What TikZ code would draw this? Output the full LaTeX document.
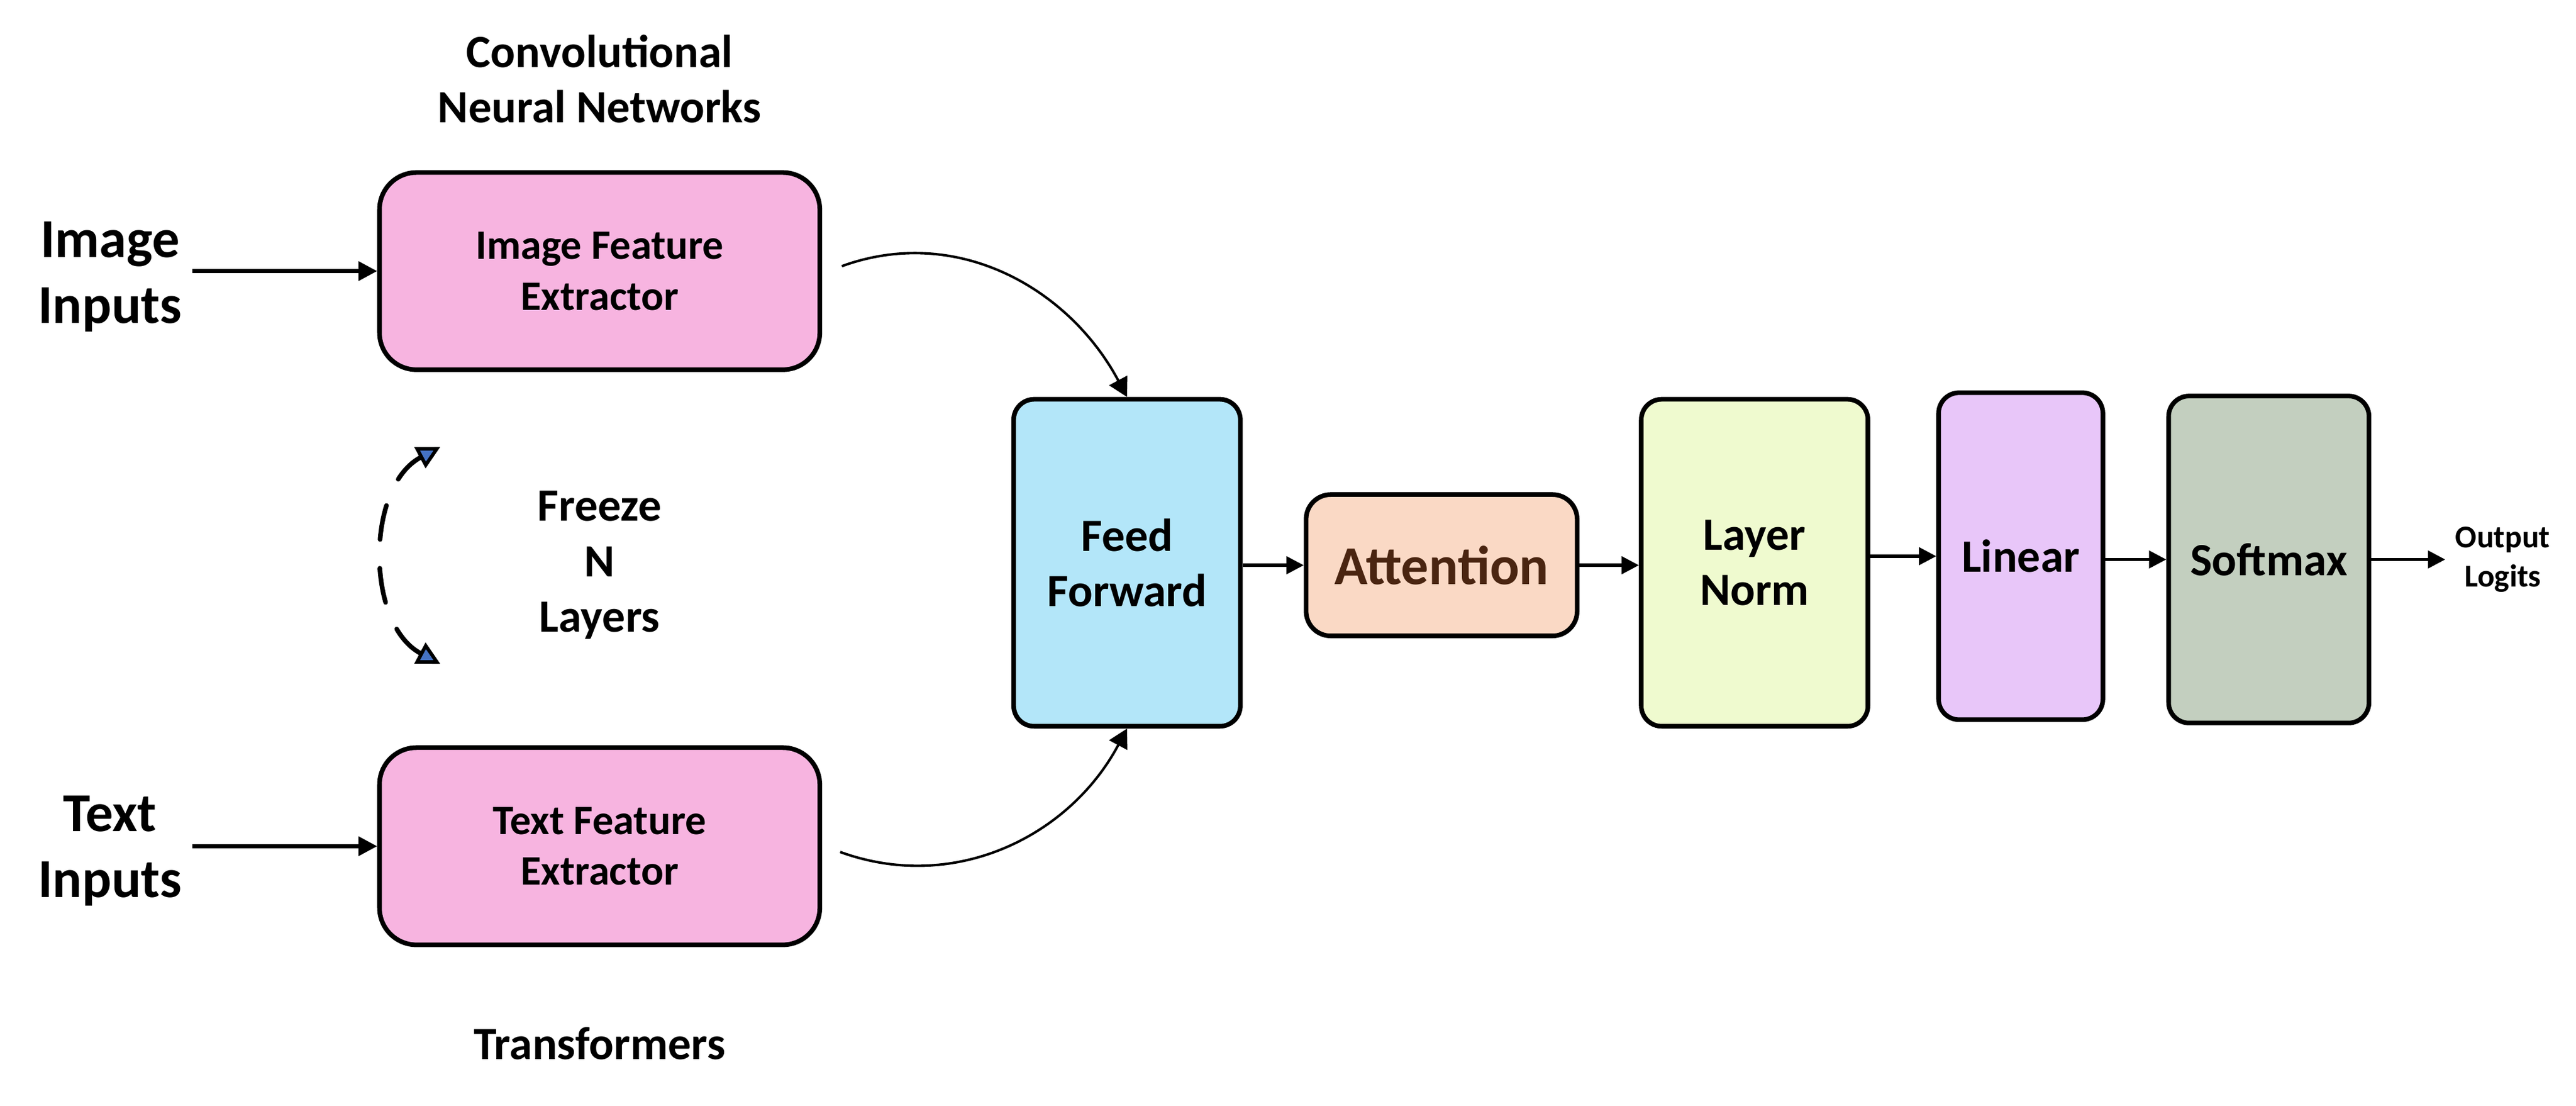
\documentclass[tikz,border=0pt]{standalone}
\usepackage{fontspec}
\setmainfont{Carlito}
\usetikzlibrary{arrows.meta}
\usetikzlibrary{positioning}

\definecolor{fepink}{HTML}{F7B4E0}
\definecolor{ffblue}{HTML}{B3E6F9}
\definecolor{attpeach}{HTML}{FAD9C5}
\definecolor{attbrown}{HTML}{4A2511}
\definecolor{lnyellow}{HTML}{EFFACF}
\definecolor{linpurple}{HTML}{E8C6F9}
\definecolor{softgrey}{HTML}{C3CFBF}
\definecolor{tipblue}{HTML}{4472C4}

\tikzset{
    block/.style={draw, line width=1.6pt, align=center, font=\bfseries\fontsize{16}{19.2}\selectfont},
    feblock/.style={block, fill=fepink, rounded corners=0.45cm, minimum width=5.36cm, minimum height=2.4cm, font=\bfseries\fontsize{14.5}{17.6}\selectfont},
    tallblock/.style={block, rounded corners=0.25cm, minimum height=3.98cm},
    toplabel/.style={align=center, font=\bfseries\fontsize{16}{19.2}\selectfont},
    biglabel/.style={align=center, font=\bfseries\fontsize{19}{22.8}\selectfont},
    smalllabel/.style={align=center, font=\bfseries\fontsize{11}{13.6}\selectfont},
    inarrow/.style={line width=1.4pt, -{Triangle[length=6.5pt,width=6.5pt]}},
    chainarrow/.style={line width=1.1pt, -{Triangle[length=6pt,width=6pt]}},
    curvearrow/.style={line width=0.85pt, -{Triangle[length=6.5pt,width=7pt]}},
    frzarrow/.style={line width=1.6pt, line cap=round, dash pattern=on 12pt off 10pt,
        {Triangle[fill=tipblue,line width=1.2pt,length=8pt,width=8pt]}-{Triangle[fill=tipblue,line width=1.2pt,length=8pt,width=8pt]}},
}

\begin{document}
\begin{tikzpicture}
    \useasboundingbox (0,0) rectangle (31.36,13.46);

    % Feature extractors
    \node[feblock] (imgfe) at (7.30,10.16) {Image Feature\\Extractor};
    \node[feblock] (txtfe) at (7.30,3.16) {Text Feature\\Extractor};
    \node[toplabel, above=0.45cm of imgfe] (cnn) {Convolutional\\Neural Networks};
    \node[toplabel, below=0.85cm of txtfe] (trf) {Transformers};

    % Inputs
    \node[biglabel] (imgin) at (1.34,10.09) {Image\\Inputs};
    \node[biglabel] (txtin) at (1.34,3.10) {Text\\Inputs};
    \draw[inarrow] (imgin.east |- imgfe.west) -- (imgfe.west);
    \draw[inarrow] (txtin.east |- txtfe.west) -- (txtfe.west);

    % Freeze N layers
    \node[toplabel] (freeze) at (7.30,6.58) {Freeze\\N\\Layers};
    \coordinate (frzbot) at (5.36,5.38);
    \coordinate (frztop) at (5.36,8.02);
    \draw[frzarrow] (frzbot) to[bend left=62] (frztop);

    % Main chain
    \node[tallblock, fill=ffblue, minimum width=2.76cm] (ff) at (13.72,6.61) {Feed\\Forward};
    \node[block, fill=attpeach, rounded corners=0.3cm, minimum width=3.30cm, minimum height=1.72cm,
        text=attbrown, font=\bfseries\fontsize{19}{22.8}\selectfont] (att) at (17.55,6.58) {Attention};
    \node[tallblock, fill=lnyellow, minimum width=2.76cm] (ln) at (21.36,6.61) {Layer\\Norm};
    \node[tallblock, fill=linpurple, minimum width=2.0cm] (lin) at (24.60,6.69) {Linear};
    \node[tallblock, fill=softgrey, minimum width=2.44cm] (soft) at (27.62,6.65) {Softmax};
    \node[smalllabel, right=0.9cm of soft] (out) {Output\\Logits};

    % Connections
    \draw[curvearrow] ([xshift=0.24cm,yshift=0.06cm]imgfe.east) to[out=20,in=118] (ff.north);
    \draw[curvearrow] ([xshift=0.22cm,yshift=-0.07cm]txtfe.east) to[out=-20,in=-118] (ff.south);
    \draw[chainarrow] (ff.east |- att.west) -- (att.west);
    \draw[chainarrow] (att.east) -- (att.east -| ln.west);
    \draw[chainarrow] (ln.east |- lin.west) -- (lin.west);
    \draw[chainarrow] (lin.east |- soft.west) -- (soft.west);
    \draw[chainarrow] (soft) -- (out);

\end{tikzpicture}
\end{document}
